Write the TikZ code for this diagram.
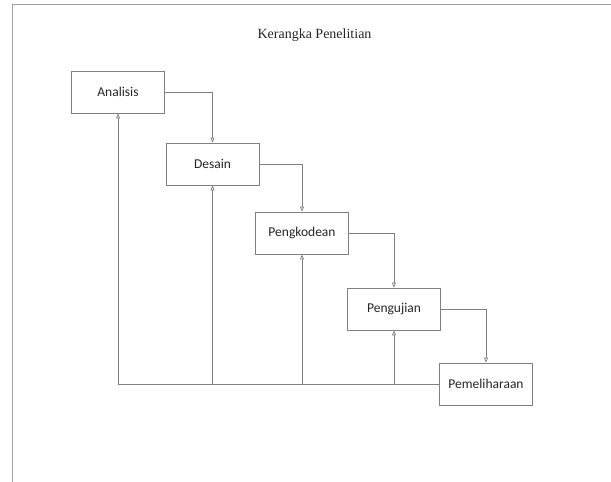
\documentclass[tikz,border=0pt]{standalone}
\usepackage{fontspec}
\setmainfont{Carlito}
\newfontfamily\titlefont{Liberation Serif}
\usetikzlibrary{arrows.meta}
\definecolor{linegray}{HTML}{808080}
\definecolor{framegray}{HTML}{A0A0A0}
\tikzset{
  stagebox/.style={draw=linegray, line width=0.8pt, minimum width=93pt, minimum height=42pt, inner sep=0pt, font=\fontsize{13.5}{15}\selectfont, text=black!85},
  flow/.style={draw=linegray, line width=0.7pt, -{Triangle[open, length=5pt, width=4pt]}},
  plain/.style={draw=linegray, line width=0.7pt}
}
\begin{document}
\begin{tikzpicture}[x=1pt,y=-1pt]
\useasboundingbox (0,0) rectangle (611,482);
\fill[white] (0,0) rectangle (611,482);
\draw[framegray, line width=1pt] (12.7,482) -- (12.7,4.5) -- (611,4.5);
\node[font=\titlefont\fontsize{14}{16}\selectfont, text=black!85] (title) at (314.5,35) {Kerangka Penelitian};
\node[stagebox] (ana) at (118,92) {Analisis};
\node[stagebox] (des) at (212.5,164) {Desain};
\node[stagebox] (pen) at (302,233) {Pengkodean};
\node[stagebox] (uji) at (394,309) {Pengujian};
\node[stagebox] (pem) at (486,384) {Pemeliharaan};
\draw[flow] (ana.east) -| (des.north);
\draw[flow] (des.east) -| (pen.north);
\draw[flow] (pen.east) -| (uji.north);
\draw[flow] (uji.east) -| (pem.north);
\coordinate (b1) at (ana.south |- pem.west);
\coordinate (b2) at (des.south |- pem.west);
\coordinate (b3) at (pen.south |- pem.west);
\coordinate (b4) at (uji.south |- pem.west);
\draw[plain] (pem.west) -- (b1);
\draw[flow] (b1) -- (ana.south);
\draw[flow] (b2) -- (des.south);
\draw[flow] (b3) -- (pen.south);
\draw[flow] (b4) -- (uji.south);
\end{tikzpicture}
\end{document}
